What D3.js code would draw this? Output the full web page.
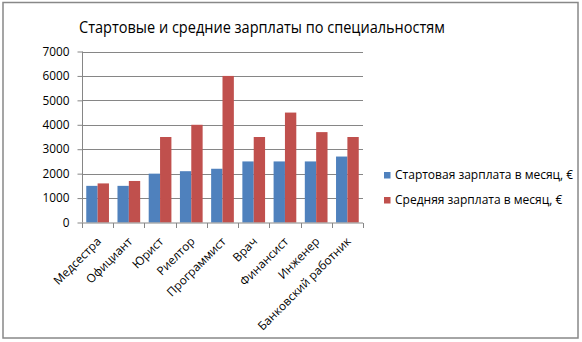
<!DOCTYPE html>
<html><head><meta charset="utf-8">
<script src="https://cdn.jsdelivr.net/npm/d3@7"></script>
<style>body{margin:0;background:#fff;} svg{display:block;}</style>
</head><body>
<script>
const categories = ["Медсестра","Официант","Юрист","Риелтор","Программист","Врач","Финансист","Инженер","Банковский  работник"];
const startSalary = [1500,1500,2000,2100,2200,2500,2500,2500,2700];
const avgSalary = [1600,1700,3500,4000,6000,3500,4500,3700,3500];
const seriesNames = ["Стартовая зарплата в месяц, €","Средняя  зарплата в месяц, €"];
const yTicks = [0,1000,2000,3000,4000,5000,6000,7000];
const title = "Стартовые и средние зарплаты по специальностям";

const W=582,H=342;
const svg=d3.select("body").append("svg").attr("width",W).attr("height",H);
const font="'Open Sans', 'Liberation Sans', sans-serif";
svg.append("rect").attr("x",3).attr("y",2.5).attr("width",575).attr("height",335.5)
  .attr("fill","#fff").attr("stroke","#888").attr("stroke-width",1.5);

svg.append("text").attr("x",262).attr("y",33).attr("text-anchor","middle")
  .attr("font-family",font).attr("font-size",17).attr("fill","#000")
  .attr("textLength",366).attr("lengthAdjust","spacingAndGlyphs").text(title);

const x0=82,x1=363,yTop=51.5,yBot=222.5;
const x=d3.scaleBand().domain(categories).range([x0,x1]).paddingInner(0).paddingOuter(0);
const y=d3.scaleLinear().domain([0,7000]).range([yBot,yTop]);
const series=[{name:seriesNames[0],vals:startSalary,color:"#4F81BD"},{name:seriesNames[1],vals:avgSalary,color:"#C0504D"}];
const barW=x.bandwidth()/(2+0.75);
const xs=d3.scaleBand().domain([0,1]).range([0,2*barW]);

// gridlines
svg.append("g").selectAll("line").data(yTicks.filter(d=>d>0)).join("line")
  .attr("x1",x0).attr("x2",x1).attr("y1",d=>Math.round(y(d))+0.5).attr("y2",d=>Math.round(y(d))+0.5)
  .attr("stroke","#868686").attr("stroke-width",1);

// bars
series.forEach((s,si)=>{
  svg.append("g").selectAll("rect").data(categories).join("rect")
    .attr("x",(c)=>x(c)+(x.bandwidth()-2*barW)/2+xs(si))
    .attr("width",barW)
    .attr("y",(c,i)=>y(s.vals[i]))
    .attr("height",(c,i)=>yBot-y(s.vals[i]))
    .attr("fill",s.color);
});

// y axis
const yAxis=d3.axisLeft(y).tickValues(yTicks).tickSize(5).tickPadding(8).tickFormat(d3.format("d"));
const gy=svg.append("g").attr("transform",`translate(${x0+0.5},0)`).call(yAxis);
gy.selectAll(".tick line").attr("stroke","#868686");
gy.selectAll(".tick text").attr("font-family",font).attr("font-size",11.8).attr("fill","#000");
gy.select(".domain").attr("stroke","#868686").attr("d",`M0,${yTop}V${yBot}`);

// x axis
const gx=svg.append("g").attr("transform",`translate(0,${yBot+0.5})`);
gx.append("line").attr("x1",x0).attr("x2",x1).attr("stroke","#868686");
const bounds=categories.map(c=>x(c)).concat([x1]);
gx.selectAll("line.tk").data(bounds).join("line").attr("class","tk")
  .attr("x1",d=>Math.round(d)+0.5).attr("x2",d=>Math.round(d)+0.5).attr("y1",0).attr("y2",5).attr("stroke","#868686");
gx.selectAll("text").data(categories).join("text")
  .attr("transform",c=>`translate(${x(c)+x.bandwidth()/2+2},${17}) rotate(-45)`)
  .attr("text-anchor","end").attr("dominant-baseline","middle")
  .attr("font-family",font).attr("font-size",11.8).attr("fill","#000").text(c=>c);

// legend
const lg=svg.append("g");
series.forEach((s,i)=>{
  const ly=175+i*25;
  lg.append("rect").attr("x",384).attr("y",ly-3).attr("width",6.5).attr("height",6.5).attr("fill",s.color);
  lg.append("text").attr("x",395).attr("y",ly+1).attr("dominant-baseline","middle")
    .attr("font-family",font).attr("font-size",12).attr("fill","#000").text(s.name);
});
</script>
</body></html>
